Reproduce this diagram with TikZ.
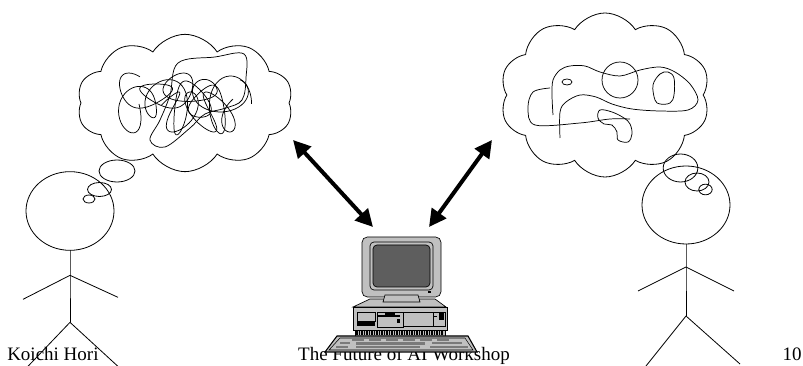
\documentclass[tikz,border=0pt]{standalone}
\usepackage{fontspec}
\setmainfont{Liberation Serif}
\usetikzlibrary{arrows.meta,shapes.geometric,shapes.symbols}
\definecolor{CaseGray}{HTML}{C0C0C0}
\definecolor{ScreenGray}{HTML}{5E5E5E}
\definecolor{KeyGray}{HTML}{7A7A7A}
\tikzset{
  outline/.style={draw=black,line width=0.6pt},
  puff/.style={ellipse,draw=black,line width=0.6pt,inner sep=0pt,outer sep=0pt},
  thinkcloud/.style={cloud,cloud puffs=10,cloud puff arc=115,cloud ignores aspect,draw=black,line width=0.6pt,inner sep=0pt,outer sep=0pt},
  scribble/.style={line width=0.55pt,line join=round},
  linkarrow/.style={{Triangle[length=13pt,width=13pt]}-{Triangle[length=13pt,width=13pt]},line width=3pt},
  casing/.style={fill=CaseGray,draw=black,line width=0.5pt},
  keyrow/.style={fill=KeyGray},
  caption/.style={inner sep=0pt,font=\fontsize{14.25pt}{17pt}\selectfont}
}
\begin{document}
\begin{tikzpicture}[x=0.75pt,y=-0.75pt]
\useasboundingbox (0,0) rectangle (803,366);

% footer
\node[caption,anchor=base west] (author) at (7,361) {Koichi Hori};
\node[caption,anchor=base] (title) at (404,361) {The Future of AI Workshop};
\node[caption,anchor=base east] (page) at (802,361) {10};

% left thinker
\node[puff,minimum width=66pt,minimum height=59pt] (headL) at (70,211) {};
\draw[outline] (headL.south) -- ++(0,25) coordinate (shoulderL) -- ++(0,47) coordinate (hipL);
\draw[outline] (shoulderL) -- ++(-47,24);
\draw[outline] (shoulderL) -- ++(48,22);
\draw[outline] (hipL) -- ++(-43,45);
\draw[outline] (hipL) -- ++(49,45);
\node[puff,minimum width=9pt,minimum height=6pt] (dotL1) at (89,199) {};
\node[puff,minimum width=18pt,minimum height=10.5pt] (dotL2) at (99.5,189.5) {};
\node[puff,minimum width=27pt,minimum height=16.5pt] (dotL3) at (117,171) {};
\node[thinkcloud,minimum width=162pt,minimum height=103pt] (cloudL) at (185,103) {};

% tangled thought
\draw[scribble] plot[domain=0:1800,samples=200,smooth] ({126+\x/16+(13+6*sin(0.7*\x))*cos(\x)},{104+(22+9*cos(0.45*\x))*sin(\x)});
\draw[scribble] plot[domain=60:1500,samples=170,smooth] ({124+\x/14+(20+5*cos(0.8*\x))*cos(\x)},{92-(14+6*sin(0.6*\x))*sin(\x)});
\draw[scribble] plot[domain=200:1300,samples=130,smooth] ({150+\x/15+11*cos(1.3*\x)},{112+20*sin(\x)});
\draw[scribble] plot[smooth cycle,tension=0.6] coordinates {(178,63) (215,57) (244,54) (246,78) (242,100) (226,108) (205,114) (190,128) (165,147) (150,140) (160,120) (170,95)};

% right thinker
\node[puff,minimum width=66pt,minimum height=58.5pt] (headR) at (686,205) {};
\draw[outline] (headR.south) -- ++(0,23) coordinate (shoulderR) -- ++(0,49) coordinate (hipR);
\draw[outline] (shoulderR) -- ++(-48,24);
\draw[outline] (shoulderR) -- ++(48,24);
\draw[outline] (hipR) -- ++(-40,50);
\draw[outline] (hipR) -- ++(54,48);
\node[puff,minimum width=10pt,minimum height=8pt] (dotR1) at (705.5,189.5) {};
\node[puff,minimum width=18pt,minimum height=13.5pt] (dotR2) at (697,182) {};
\node[puff,minimum width=26pt,minimum height=21pt] (dotR3) at (680.5,168) {};
\node[thinkcloud,minimum width=157.5pt,minimum height=123pt] (cloudR) at (605,95) {};

% looser thought
\draw[scribble] plot[smooth,tension=0.55] coordinates {(560,138) (560,112) (566,102) (580,95) (596,97) (612,104) (632,109) (660,111) (688,110) (698,100) (690,84) (675,72) (660,67) (640,70) (620,76) (600,72) (585,66) (570,66) (560,70) (553,80) (552,95) (553,115)};
\draw[scribble] plot[smooth,tension=0.55] coordinates {(550,88) (533,92) (528,108) (535,125) (580,123) (610,119) (630,119)};
\draw[scribble] (620,80) circle [radius=18];
\draw[scribble] plot[smooth cycle,tension=0.6] coordinates {(600,110) (598,118) (604,124) (612,125) (617,132) (618,140) (628,142) (632,134) (630,124) (624,118) (612,112)};
\draw[scribble] plot[smooth cycle,tension=0.6] coordinates {(655,100) (653,85) (660,74) (668,72) (674,78) (674,95) (670,103) (660,104)};
\draw[scribble] (567,82) ellipse [x radius=5,y radius=3];

% links to the machine
\coordinate (tipL1) at (293,140);
\coordinate (tipL2) at (373,227);
\coordinate (tipR1) at (492,140);
\coordinate (tipR2) at (429,227);
\draw[linkarrow] (tipL1) -- (tipL2);
\draw[linkarrow] (tipR1) -- (tipR2);

% computer: monitor
\draw[casing,rounded corners=4pt] (362,237) rectangle (441,297);
\draw[casing,rounded corners=3pt] (370,242) rectangle (433,290);
\draw[fill=ScreenGray,draw=black,line width=0.5pt,rounded corners=3pt] (373,245) rectangle (430,287);
\fill (428,291) rectangle (431,293);
% case top and stand
\draw[casing] (370,299) -- (435,299) -- (446,307) -- (353,307) -- cycle;
\draw[casing] (385,295) -- (418,295) -- (420,302) -- (383,302) -- cycle;
% case front
\draw[casing] (353,307) rectangle (447,330);
\draw[casing] (357,312) rectangle (375,321);
\fill (357,322) rectangle (375,326);
\draw[casing] (377,312) rectangle (403,327);
\fill (378,315) rectangle (400,317);
\fill (385,313) rectangle (395,316);
\fill (397,319) rectangle (400,323);
\draw[casing] (403,312) rectangle (433,326);
\draw[casing] (433,312) rectangle (445,326);
\fill (439,313) rectangle (444,320);
\fill (434,316) rectangle (437,317);
% vent
\draw[casing] (355,330) rectangle (445,336);
\foreach \v in {357,359.5,...,443} \draw[line width=0.8pt] (\v,331) -- (\v,335);
% keyboard
\draw[casing,line width=0.8pt] (337,336) -- (468,336) -- (477,352) -- (325,352) -- cycle;
\draw[line width=0.4pt] (340,338) -- (465,338) -- (473,350) -- (329,350) -- cycle;
\foreach \k in {0,...,5} \fill[keyrow] ({352+\k*17},339) rectangle ++(12,2);
\fill[keyrow] (340,342.5) rectangle (350,344.5);
\fill[keyrow] (356,342.5) rectangle (425,345.5);
\fill[keyrow] (432,342.5) rectangle (462,344.5);
\fill[keyrow] (336,346.5) rectangle (348,348.5);
\fill[keyrow] (356,346.5) rectangle (420,348.5);
\fill[keyrow] (430,346) rectangle (468,348.5);
\end{tikzpicture}
\end{document}
